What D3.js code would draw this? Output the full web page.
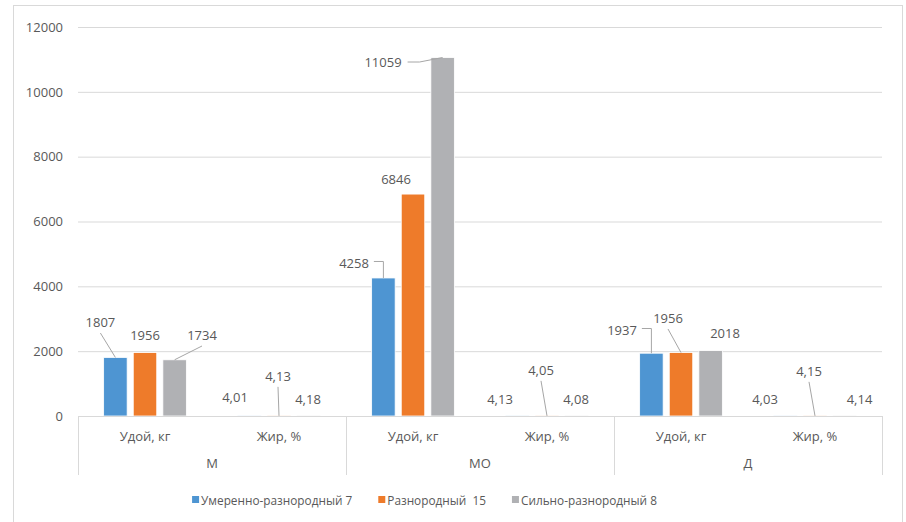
<!DOCTYPE html>
<html><head><meta charset="utf-8">
<script src="https://cdn.jsdelivr.net/npm/d3@7"></script>
<style>
html,body{margin:0;padding:0;background:#fff;}
text{font-family:"Open Sans",sans-serif;fill:#595959;white-space:pre;}
</style></head>
<body><svg id="c" width="906" height="522"></svg>
<script>
// ---- data ----
const groups = ["М", "МО", "Д"];
const measures = ["Удой, кг", "Жир, %"];
const seriesNames = ["Умеренно-разнородный 7", "Разнородный  15", "Сильно-разнородный 8"];
const seriesA = [1807, 4.01, 4258, 4.13, 1937, 4.03];
const seriesB = [1956, 4.13, 6846, 4.05, 1956, 4.15];
const seriesC = [1734, 4.18, 11059, 4.08, 2018, 4.14];
const yTicks = [0, 2000, 4000, 6000, 8000, 10000, 12000];

// ---- layout / style ----
const colors = ["#4e95d2", "#ee7b2a", "#b0b1b4"];
const labelLayout = [ // [dx, dy, leader] relative to bar top-centre
  [[-15,-35.4,"down"],[-14.4,-19,null],[-29.4,-15,"elbow"],[-17.4,-17,null],[-29.4,-23.2,"elbow"],[-20.4,-17,null]],
  [[0,-17.6,null],[-1,-40,"down"],[-17,-15,null],[-6,-46,"down"],[-13,-34.6,"down"],[-6,-45,"down"]],
  [[27.4,-24.8,"down"],[-0.6,-17,null],[-59.6,4.5,"side"],[-0.6,-17,null],[14.4,-17.6,null],[14.9,-17,null]]
];

const svg = d3.select("#c");
svg.append("rect").attr("x",13.5).attr("y",5.5).attr("width",889).attr("height",540)
  .attr("fill","#fff").attr("stroke","#d9d9d9");

const slots = [];
groups.forEach(g => measures.forEach(m => slots.push(g + "|" + m)));
const series = [seriesA, seriesB, seriesC];

const x0 = d3.scaleBand().domain(slots).range([78, 882]);
const x1 = d3.scaleBand().domain(d3.range(series.length)).range([0, x0.bandwidth()])
  .paddingInner(0.206).paddingOuter(0.866);
const y = d3.scaleLinear().domain([0, 12000]).range([416, 27]);

// gridlines + y labels
const yAxis = d3.axisLeft(y).tickValues(yTicks).tickSize(-(882-78)).tickPadding(15).tickFormat(d3.format("d"));
const ga = svg.append("g").attr("transform","translate(78,0)").call(yAxis);
ga.select(".domain").remove();
ga.selectAll(".tick line").attr("stroke","#d9d9d9").attr("stroke-width",1);
ga.selectAll(".tick text").style("font-size","13px").attr("fill","#595959");

// bars
series.forEach((vals, si) => {
  svg.append("g").selectAll("rect").data(vals).join("rect")
    .attr("x", (d,i) => x0(slots[i]) + x1(si))
    .attr("y", d => y(d))
    .attr("width", x1.bandwidth())
    .attr("height", d => y(0) - y(d))
    .attr("fill", colors[si])
    .attr("stroke", "#fff").attr("stroke-width", 0.8);
});

// category axis lines
const gx = svg.append("g");
gx.append("line").attr("x1",78).attr("x2",882).attr("y1",y(0)+0.5).attr("y2",y(0)+0.5).attr("stroke","#d9d9d9");
const groupEdges = groups.map((g,i) => x0(slots[i*2])).concat([x0(slots[slots.length-1]) + x0.bandwidth()]);
groupEdges.forEach(xe => gx.append("line").attr("x1",Math.round(xe)+0.5).attr("x2",Math.round(xe)+0.5)
  .attr("y1",y(0)).attr("y2",475).attr("stroke","#d9d9d9"));
slots.forEach(s => gx.append("text").attr("x", x0(s)+x0.bandwidth()/2).attr("y",436)
  .attr("text-anchor","middle").attr("dominant-baseline","central").style("font-size","13px").text(s.split("|")[1]));
groups.forEach((g,i) => gx.append("text").attr("x",(groupEdges[i]+groupEdges[i+1])/2).attr("y",463)
  .attr("text-anchor","middle").attr("dominant-baseline","central").style("font-size","13px").text(g));

// data labels
const fmt = v => v < 100 ? d3.format(".2f")(v).replace(".", ",") : String(v);
const gl = svg.append("g");
series.forEach((vals, si) => {
  vals.forEach((v, i) => {
    const bx = x0(slots[i]) + x1(si) + x1.bandwidth()/2;
    const by = y(v);
    const [dx, dy, leader] = labelLayout[si][i];
    const lx = bx + dx, ly = by + dy;
    const t = gl.append("text").attr("x",lx).attr("y",ly).attr("text-anchor","middle")
      .attr("dominant-baseline","central").style("font-size","13px").text(fmt(v));
    const w = t.node().getComputedTextLength();
    let pts = null;
    if (leader === "down") pts = [[lx, ly+11],[bx, by]];
    if (leader === "elbow") pts = [[lx+w/2+5, ly-1.5],[bx, ly-1.5],[bx, by]];
    if (leader === "side") pts = [[lx+w/2+6, ly],[lx+w/2+18, ly],[bx, by]];
    if (pts) gl.append("path").attr("d", d3.line()(pts)).attr("fill","none").attr("stroke","#a6a6a6").attr("stroke-width",1);
  });
});

// legend
const lg = svg.append("g");
let cx = 0;
const items = [];
seriesNames.forEach((n, i) => {
  const it = lg.append("g");
  it.append("rect").attr("x",0).attr("y",-3.5).attr("width",7).attr("height",7).attr("fill",colors[i]);
  const t = it.append("text").attr("x",9).attr("y",0).attr("dominant-baseline","central").style("font-size","11.8px").text(n);
  items.push([it, 9 + t.node().getComputedTextLength()]);
});
items.forEach(([it, w]) => { it.attr("transform", `translate(${cx},0)`); cx += w + 26; });
const totalW = cx - 26;
lg.attr("transform", `translate(${424.5 - totalW/2},499.5)`);
</script></body></html>
